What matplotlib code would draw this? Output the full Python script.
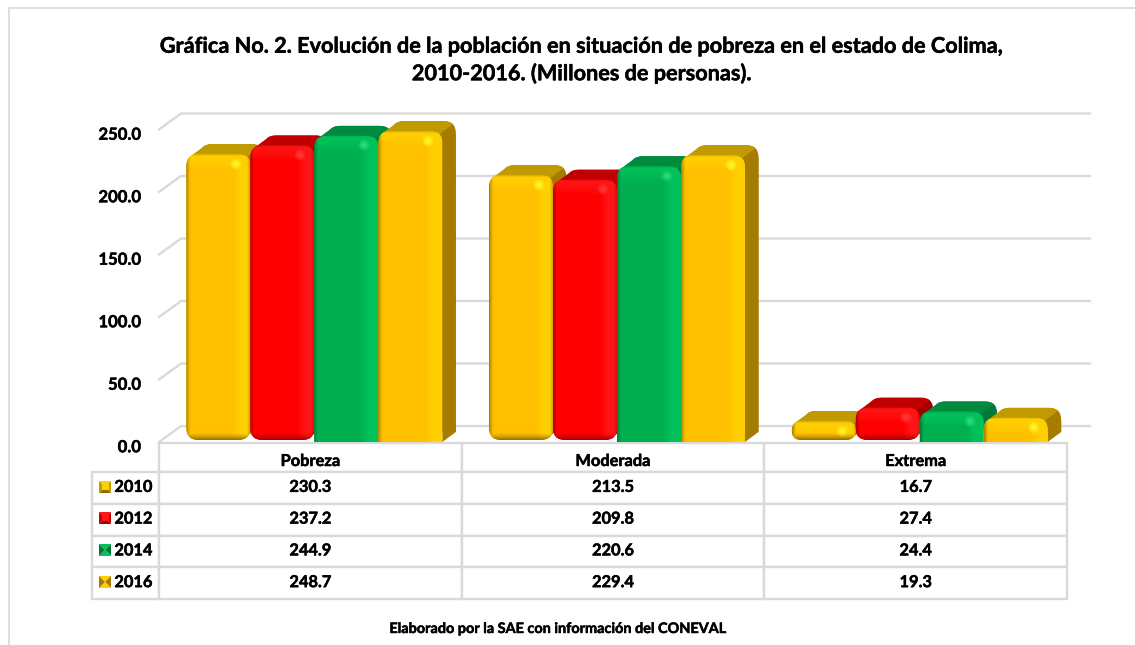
import numpy as np
import matplotlib
matplotlib.use('Agg')
import matplotlib.pyplot as plt
import matplotlib.patheffects as pe
from matplotlib.path import Path
from matplotlib.patches import PathPatch, Polygon, Rectangle
from matplotlib.table import Table
from matplotlib.transforms import ScaledTranslation

categories = ['Pobreza', 'Moderada', 'Extrema']
years = ['2010', '2012', '2014', '2016']
values_2010 = [230.3, 213.5, 16.7]
values_2012 = [237.2, 209.8, 27.4]
values_2014 = [244.9, 220.6, 24.4]
values_2016 = [248.7, 229.4, 19.3]
y_ticks = [0, 50, 100, 150, 200, 250]

title_text = ('Gráfica No. 2. Evolución de la población en situación de pobreza en el estado de Colima,\n'
              '2010-2016. (Millones de personas).')
footer_text = 'Elaborado por la SAE con información del CONEVAL'

W, H = 1135, 645
GRID = '#d9d9d9'
FONT = 'Lato'
LEFT = 159
AX_BOTTOM = 442
AX_TOP = 129.5
AX_RIGHT = 1067

# base, light, dark, specular, top face, side face
COLORS = {
    '2010': ('#ffc000', '#ffd000', '#8f6c00', '#ffff30', '#c09a00', '#a67c00'),
    '2012': ('#ff0000', '#ff1515', '#a00000', '#ff4040', '#c00000', '#a00000'),
    '2014': ('#00b050', '#00c25a', '#006f33', '#30e080', '#008a3e', '#007a38'),
    '2016': ('#ffc000', '#ffd000', '#8f6c00', '#ffff30', '#c09a00', '#a67c00'),
}
HEAVY = [pe.withStroke(linewidth=0.35, foreground='black')]


def rgb(c):
    return np.array(matplotlib.colors.to_rgb(c))


def pixel_axes(fig, z):
    ''' Full figure axes counted in image pixels, for frame and legend keys '''
    a = fig.add_axes([0, 0, 1, 1], zorder=z)
    a.set_xlim(0, W)
    a.set_ylim(H, 0)
    a.axis('off')
    return a


def rounded_path(x0, x1, y0, y1, rx, ry, round_bottom):
    verts = []
    codes = []
    if round_bottom:
        verts += [(x0 + rx, y0)]
        codes += [Path.MOVETO]
        verts += [(x1 - rx, y0), (x1, y0), (x1, y0 + ry)]
        codes += [Path.LINETO, Path.CURVE3, Path.CURVE3]
    else:
        verts += [(x0, y0), (x1, y0), (x1, y0 + ry)]
        codes += [Path.MOVETO, Path.LINETO, Path.LINETO]
    verts += [(x1, y1 - ry), (x1, y1), (x1 - rx, y1)]
    codes += [Path.LINETO, Path.CURVE3, Path.CURVE3]
    verts += [(x0 + rx, y1), (x0, y1), (x0, y1 - ry)]
    codes += [Path.LINETO, Path.CURVE3, Path.CURVE3]
    if round_bottom:
        verts += [(x0, y0 + ry), (x0, y0), (x0 + rx, y0)]
        codes += [Path.LINETO, Path.CURVE3, Path.CURVE3]
    else:
        verts += [(x0, y0)]
        codes += [Path.LINETO]
    return Path(verts, codes)


def top_path(x0, x1, y1, dx, dy, rx, ry):
    ''' Top face of the bar, from the front edge to the rounded back edge '''
    verts = [(x0 + 0.25 * rx, y1 - 0.25 * ry),
             (x0 + dx + 0.25 * rx, y1 + dy - 0.25 * ry),
             (x0 + dx + 0.5 * rx, y1 + dy), (x0 + dx + rx, y1 + dy),
             (x1 + dx - rx, y1 + dy),
             (x1 + dx - 0.5 * rx, y1 + dy), (x1 + dx - 0.25 * rx, y1 + dy - 0.25 * ry),
             (x1 - 0.25 * rx, y1 - 0.25 * ry),
             (x0 + 0.25 * rx, y1 - 0.25 * ry)]
    codes = [Path.MOVETO, Path.LINETO, Path.CURVE3, Path.CURVE3, Path.LINETO,
             Path.CURVE3, Path.CURVE3, Path.LINETO, Path.CLOSEPOLY]
    return Path(verts, codes)


def bevel_image(w, h, pal, round_bottom):
    ''' Front face shading, one RGB value per pixel '''
    base, light, dark, spec = [rgb(c) for c in pal[:4]]
    w = int(round(w))
    h = max(int(round(h)), 2)
    u, v = np.meshgrid(np.arange(w) + 0.5, np.arange(h) + 0.5)
    img = np.ones((h, w, 3)) * base

    top = np.clip(1 - v / 14.0, 0, 1) ** 0.5
    right = np.clip((u - (w - 17)) / 8.0, 0, 1)
    lit = np.maximum(top, right)[..., None]
    img = img * (1 - lit) + light * lit

    shade = np.clip(1 - u / 5.0, 0, 1) ** 1.6 * 0.85
    shade = np.maximum(shade, np.clip(1 - v / 2.5, 0, 1) * 0.35)
    if round_bottom:
        shade = np.maximum(shade, np.clip((v - (h - 8)) / 8.0, 0, 1) ** 1.6)
        shade = np.maximum(shade, np.clip((u - (w - 3)) / 3.0, 0, 1) * 0.45)
    shade = shade[..., None]
    img = img * (1 - shade) + dark * shade

    d = np.hypot(u - (w - 14), v - 10)
    glow = np.clip(1 - d / 6.0, 0, 1)[..., None] ** 0.8
    img = img * (1 - glow) + spec * glow
    return img


def draw_bar(ax, x0, x1, value, pal, round_bottom, z):
    px, py = px_per_unit(ax)
    dx = 13.5 / px
    dy = 10 / py
    y0 = 1.6 if round_bottom else 0
    y1 = value
    rx = min(12, (y1 - y0) * py / 2) / px
    ry = min(12, (y1 - y0) * py / 2) / py

    # depth of the bar: the back face, the side and the top
    back = rounded_path(x0 + dx, x1 + dx, y0 + dy, y1 + dy, rx, ry, round_bottom)
    ax.add_patch(PathPatch(back, fc=pal[5], ec='none', zorder=z, clip_on=False))
    cut = 0.3 if round_bottom else 0
    side = [(x1 - rx * cut, y0 + ry * cut), (x1 + dx - rx * cut, y0 + dy + ry * cut),
            (x1 + dx, y1 + dy - ry), (x1, y1 - ry)]
    ax.add_patch(Polygon(side, fc=pal[5], ec='none', zorder=z, clip_on=False))
    ax.add_patch(PathPatch(top_path(x0, x1, y1, dx, dy, rx, ry), fc=pal[4], ec='none',
                           zorder=z, clip_on=False))

    # front face, shaded image clipped to the rounded shape
    front = PathPatch(rounded_path(x0, x1, y0, y1, rx, ry, round_bottom),
                      fc=pal[0], ec='none', zorder=z + 0.1, clip_on=False)
    ax.add_patch(front)
    img = bevel_image((x1 - x0) * px, (y1 - y0) * py, pal, round_bottom)
    im = ax.imshow(img, extent=[x0, x1, y0, y1], aspect='auto', zorder=z + 0.2,
                   interpolation='bilinear')
    im.set_clip_path(front)


def px_per_unit(ax):
    bb = ax.get_window_extent()
    x0, x1 = ax.get_xlim()
    y0, y1 = ax.get_ylim()
    return bb.width / (x1 - x0), bb.height / (y1 - y0)


def draw_grid(ax):
    px, py = px_per_unit(ax)
    dx = 22 / px
    dy = 16 / py
    xmax = (1090 - LEFT) / px
    for t in y_ticks:
        ax.plot([0, dx, xmax], [t, t + dy, t + dy], color=GRID, lw=1.7,
                zorder=1, clip_on=False, solid_joinstyle='miter')


def draw_table(ax, series):
    bb = ax.get_window_extent()
    # bbox in axes fractions
    box = [(92 - LEFT) / bb.width, -(599 - AX_BOTTOM) / bb.height,
           (1067 - 92) / bb.width, (599 - 443) / bb.height]
    table = Table(ax, bbox=box)
    table.auto_set_font_size(False)
    head_h, row_h = 29, 31.75
    label_w, col_w = 67, 302.7
    blank = table.add_cell(0, 0, label_w, head_h, text='')
    blank.visible_edges = ''
    for j in range(len(categories)):
        table.add_cell(0, j + 1, col_w, head_h, text='', loc='center')
    for i, year in enumerate(years):
        table.add_cell(i + 1, 0, label_w, row_h, text=year, loc='right')
        for j in range(len(categories)):
            table.add_cell(i + 1, j + 1, col_w, row_h, text='%.1f' % series[i][j], loc='center')
    for cell in table.get_celld().values():
        cell.set_edgecolor(GRID)
        cell.set_linewidth(1.7)
        txt = cell.get_text()
        txt.set_fontsize(11.8)
        txt.set_fontweight('bold')
        txt.set_family(FONT)
        txt.set_path_effects(HEAVY)
    ax.add_table(table)

    # header labels sit low in their cells
    for j, cat in enumerate(categories):
        ax.annotate(cat, xy=(j + 0.5, 0), xycoords='data', xytext=(0, -20 * 0.72),
                    textcoords='offset points', ha='center', va='center', fontsize=11.8,
                    fontweight='bold', path_effects=HEAVY, zorder=30, annotation_clip=False)
    return table


def draw_legend_keys(keys):
    row_tops = [472, 503, 535, 567]
    for year, ytop in zip(years, row_tops):
        pal = COLORS[year]
        x0, x1 = 99, 111
        y0, y1 = ytop + 9, ytop + 21
        xc, yc = (x0 + x1) / 2, (y0 + y1) / 2
        if year in ('2010', '2012'):
            tri = [pal[1], pal[4], pal[2], pal[4]]
        else:
            tri = [pal[1], pal[5], pal[1], pal[5]]
        corners = [(x0, y0), (x1, y0), (x1, y1), (x0, y1)]
        for k in range(4):
            keys.add_patch(Polygon([corners[k], corners[(k + 1) % 4], (xc, yc)], fc=tri[k],
                                   ec='none'))
        if year in ('2010', '2012'):
            keys.add_patch(Rectangle((x0 + 2.5, y0 + 2.5), 7, 6, fc=pal[1], ec='none'))


plt.rcParams['font.family'] = FONT
plt.rcParams['font.weight'] = 'bold'

fig = plt.figure(figsize=(W / 100, H / 100), dpi=100)
frame = pixel_axes(fig, -1)
frame.plot([9, 9, W], [H, 8, 8], color=GRID, lw=1.2)

ax = fig.add_axes([LEFT / W, 1 - AX_BOTTOM / H, (AX_RIGHT - LEFT) / W, (AX_BOTTOM - AX_TOP) / H])
ax.patch.set_alpha(0)
ax.set_xlim(0, 3)
ax.set_ylim(0, 250)
for s in ax.spines.values():
    s.set_visible(False)
ax.set_xticks([])
ax.set_yticks(y_ticks)
ax.set_yticklabels(['%.1f' % t for t in y_ticks], fontsize=12, fontweight='bold')
ax.tick_params(axis='y', length=0, pad=13)
for lab in ax.get_yticklabels():
    lab.set_transform(lab.get_transform() + ScaledTranslation(0, -2.7 / 72, fig.dpi_scale_trans))
    lab.set_path_effects(HEAVY)

draw_grid(ax)

series = [values_2010, values_2012, values_2014, values_2016]
px, py = px_per_unit(ax)
bar_w = 64 / px
group_shift = 4 / px
z = 3
for i in range(len(categories)):
    center = i + 0.5 + group_shift
    for j, year in enumerate(years):
        x0 = center + (j - 2) * bar_w
        draw_bar(ax, x0, x0 + bar_w, series[j][i], COLORS[year], j < 2, z)
        z += 1
ax.set_xlim(0, 3)
ax.set_ylim(0, 250)

draw_table(ax, series)

keys = pixel_axes(fig, 10)
keys.patch.set_alpha(0)
draw_legend_keys(keys)

fig.text(582 / W, 1 - 60 / H, title_text, ha='center', va='center', fontsize=15.6,
         fontweight='bold', linespacing=1.3, color='black', path_effects=HEAVY)
fig.text(557 / W, 1 - 629 / H, footer_text, ha='center', va='center', fontsize=10.4,
         fontweight='bold', color='black', path_effects=HEAVY)

fig.savefig('out.png', dpi=100)
